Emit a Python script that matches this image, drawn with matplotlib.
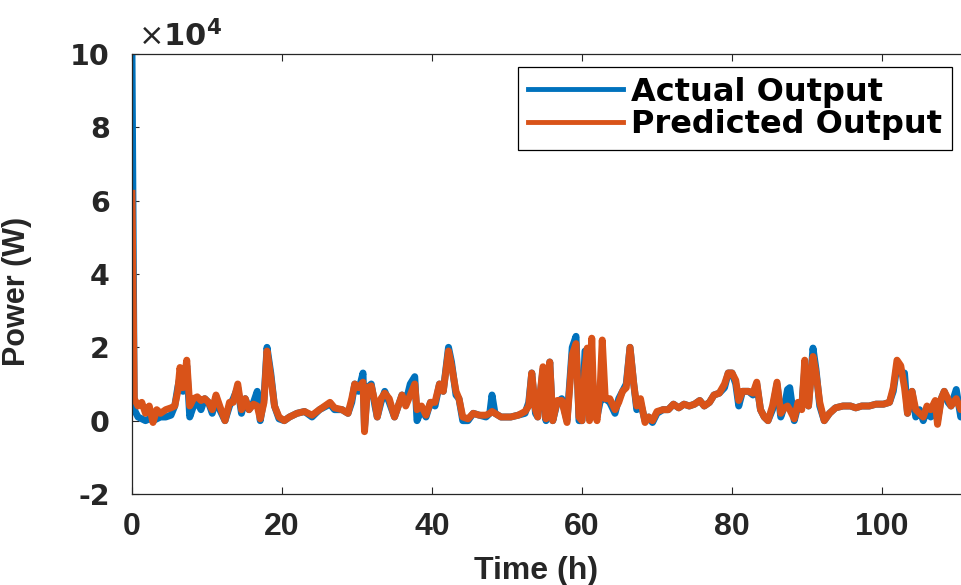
import numpy as np
import matplotlib
matplotlib.use("Agg")
import matplotlib.pyplot as plt
from matplotlib import font_manager
from matplotlib.ticker import FuncFormatter

# Dati (potenza in unità di 1e4 W)
hours = [0.0, 0.3, 0.8, 1.3, 1.8, 2.3, 2.8, 3.3, 3.8, 4.5, 5.2, 5.7, 6.1, 6.4, 6.8, 7.3, 7.7,
         8.2, 8.7, 9.2, 9.7, 10.2, 10.7, 11.2, 11.7, 12.4, 13.0, 13.5, 14.1, 14.6, 15.1, 15.6,
         16.2, 16.7, 17.1, 17.6, 18.0, 18.5, 19.0, 19.6, 20.3, 21.0, 22.0, 23.0, 24.0, 25.0,
         26.4, 27.0, 28.0, 28.8, 29.3, 29.7, 30.2, 30.8, 31.0, 31.4, 31.9, 32.4, 32.7, 33.2,
         33.7, 34.3, 35.0, 35.5, 36.0, 36.5, 37.1, 37.7, 38.0, 38.6, 39.2, 39.8, 40.4, 41.0,
         41.5, 42.2, 42.6, 43.2, 43.6, 44.1, 44.8, 45.5, 46.3, 47.2, 47.7, 48.0, 48.4, 49.2,
         50.5, 51.5, 52.4, 52.9, 53.3, 53.8, 54.1, 54.8, 55.2, 55.7, 56.1, 56.7, 57.3, 58.0,
         58.7, 59.2, 59.6, 60.0, 60.4, 60.7, 61.0, 61.3, 61.6, 62.0, 62.4, 62.7, 63.1, 63.7,
         64.4, 64.9, 65.4, 65.9, 66.4, 66.9, 67.3, 67.8, 68.4, 68.9, 69.4, 70.0, 70.8, 71.5,
         72.2, 72.9, 73.6, 74.3, 75.0, 75.7, 76.3, 77.0, 77.6, 78.3, 79.0, 79.5, 80.0, 80.5,
         80.9, 81.4, 82.2, 82.8, 83.3, 83.8, 84.3, 84.8, 85.4, 86.0, 86.5, 87.0, 87.4, 87.7,
         88.3, 88.8, 89.3, 89.7, 90.2, 90.8, 91.2, 91.7, 92.3, 93.0, 93.8, 94.8, 95.8, 96.5,
         97.3, 98.3, 99.2, 100.2, 101.0, 101.5, 102.0, 102.5, 103.0, 103.4, 104.0, 104.5,
         105.0, 105.5, 106.0, 106.5, 107.1, 107.4, 107.9, 108.3, 108.8, 109.2, 109.9, 110.5,
         111.2]

actual = [10.0, 0.3, 0.1, 0.05, 0.0, 0.05, 0.0, 0.05, 0.1, 0.1, 0.15, 0.4, 0.9, 1.2, 0.8, 1.5, 0.1,
          0.4, 0.5, 0.3, 0.6, 0.5, 0.2, 0.6, 0.3, 0.0, 0.4, 0.6, 0.9, 0.2, 0.6, 0.3,
          0.5, 0.8, 0.0, 0.6, 2.0, 1.3, 0.4, 0.05, 0.0, 0.1, 0.2, 0.25, 0.1, 0.3,
          0.45, 0.3, 0.3, 0.2, 0.5, 1.0, 0.8, 1.3, -0.2, 0.9, 1.0, 0.4, 0.1, 0.5,
          0.8, 0.5, 0.1, 0.4, 0.7, 0.5, 1.0, 1.2, 0.0, 0.3, 0.1, 0.5, 0.4, 1.0,
          0.8, 2.0, 1.6, 0.7, 0.6, 0.0, 0.0, 0.2, 0.15, 0.1, 0.2, 0.7, 0.2, 0.1,
          0.1, 0.15, 0.2, 0.5, 1.3, 0.2, 0.1, 1.4, 0.0, 1.6, 0.0, 0.5, 0.6, 0.0,
          2.0, 2.3, 0.0, 0.0, 1.9, 1.9, 0.1, 1.5, 0.4, 0.1, 0.5, 0.6, 0.6, 0.5,
          0.2, 0.6, 0.8, 1.0, 2.0, 1.0, 0.3, 0.5, 0.0, 0.1, -0.05, 0.2, 0.3, 0.3,
          0.45, 0.35, 0.45, 0.4, 0.45, 0.55, 0.4, 0.5, 0.7, 0.75, 0.9, 1.3, 1.3, 1.0,
          0.4, 0.8, 0.8, 0.7, 1.0, 0.3, 0.1, 0.0, 0.3, 1.0, 0.1, 0.4, 0.85, 0.9,
          0.0, 0.4, 0.4, 1.4, 0.4, 1.98, 1.4, 0.4, 0.0, 0.2, 0.35, 0.4, 0.4, 0.35,
          0.4, 0.4, 0.45, 0.45, 0.5, 0.8, 1.5, 1.3, 1.3, 0.2, 0.8, 0.1,
          0.3, 0.0, 0.3, 0.1, 0.5, 0.0, 0.6, 0.8, 0.5, 0.4, 0.85, 0.1,
          0.6]

predicted = [6.2, 0.6, 0.4, 0.5, 0.2, 0.4, -0.05, 0.3, 0.2, 0.3, 0.35, 0.4, 0.8, 1.45, 0.9, 1.65, 0.4,
             0.6, 0.65, 0.55, 0.6, 0.5, 0.3, 0.7, 0.4, 0.0, 0.5, 0.5, 1.0, 0.3, 0.6, 0.3,
             0.45, 0.4, 0.05, 0.5, 1.9, 1.2, 0.4, 0.1, 0.0, 0.1, 0.2, 0.25, 0.15, 0.3,
             0.5, 0.35, 0.3, 0.2, 0.6, 1.0, 0.9, 1.05, -0.3, 0.9, 0.95, 0.5, 0.1, 0.6,
             0.75, 0.6, 0.1, 0.4, 0.7, 0.4, 0.7, 1.0, 0.3, 0.4, 0.15, 0.5, 0.5, 1.0,
             0.8, 1.9, 1.5, 0.8, 0.6, 0.1, 0.05, 0.2, 0.15, 0.15, 0.2, 0.25, 0.2, 0.1,
             0.1, 0.15, 0.25, 0.4, 1.3, 0.3, 0.1, 1.47, 0.05, 1.6, 0.0, 0.55, 0.55, -0.05,
             1.8, 2.1, 0.1, 0.0, 1.4, 1.98, 0.0, 2.25, 0.3, 0.0, 0.8, 2.2, 0.6, 0.6,
             0.3, 0.5, 0.8, 0.9, 2.0, 1.0, 0.4, 0.6, -0.05, 0.1, 0.0, 0.25, 0.3, 0.3,
             0.45, 0.35, 0.45, 0.4, 0.45, 0.55, 0.4, 0.5, 0.7, 0.75, 1.0, 1.3, 1.3, 1.1,
             0.55, 0.8, 0.8, 0.75, 1.05, 0.3, 0.1, 0.0, 0.4, 1.05, 0.2, 0.35, 0.4, 0.3,
             0.05, 0.5, 0.3, 1.65, 0.4, 1.75, 1.3, 0.5, 0.0, 0.2, 0.35, 0.4, 0.4, 0.35,
             0.4, 0.4, 0.45, 0.45, 0.5, 0.9, 1.65, 1.5, 0.9, 0.2, 0.8, 0.3,
             0.2, 0.1, 0.4, 0.3, 0.55, -0.1, 0.6, 0.8, 0.6, 0.4, 0.6, 0.3,
             0.6]

x_ticks = [0, 20, 40, 60, 80, 100]
y_ticks = [-2, 0, 2, 4, 6, 8, 10]

# Font: narrow per assi se disponibile
nomi = {f.name for f in font_manager.fontManager.ttflist}
narrow = "Liberation Sans Narrow" if "Liberation Sans Narrow" in nomi else "Liberation Sans"

blu = "#0072BD"
arancio = "#D95319"

fig = plt.figure(figsize=(9.62, 5.85), dpi=100)
# l'asse esce a destra dalla figura, come nel riferimento
ax = fig.add_axes([132 / 962, 1 - 494 / 585, 900 / 962, 440 / 585])

t = np.array(hours)
ax.plot(t, np.array(actual) * 1e4, color=blu, lw=5, label="Actual Output", solid_joinstyle="round")
ax.plot(t, np.array(predicted) * 1e4, color=arancio, lw=5, label="Predicted Output", solid_joinstyle="round")

ax.set_xlim(0, 120)
ax.set_ylim(-2e4, 10e4)
ax.set_xticks(x_ticks)
ax.set_yticks([v * 1e4 for v in y_ticks])
ax.yaxis.set_major_formatter(FuncFormatter(lambda v, p: "%d" % round(v / 1e4)))

ax.tick_params(direction="in", length=5, width=0.8, top=True, right=True, colors="#262626")
for lab in ax.get_xticklabels():
    lab.set_fontfamily(narrow)
    lab.set_fontweight("bold")
    lab.set_fontsize(23)
    lab.set_color("#262626")
for lab in ax.get_yticklabels():
    lab.set_fontfamily("DejaVu Sans")
    lab.set_fontweight("bold")
    lab.set_fontsize(20.5)
    lab.set_color("#262626")
ax.tick_params(axis="x", pad=13)
ax.tick_params(axis="y", pad=16)

for s in ax.spines.values():
    s.set_color("#262626")
    s.set_linewidth(0.9)

ax.set_xlabel("Time (h)", fontfamily=narrow, fontweight="bold", fontsize=23, color="#262626")
ax.xaxis.set_label_coords((536 - 132) / 900, -0.14)
ax.set_ylabel("Power (W)", fontfamily=narrow, fontweight="bold", fontsize=22, color="#262626")
ax.yaxis.set_label_coords((32 - 132) / 900, 0.46)

plt.rcParams["mathtext.fontset"] = "dejavusans"
fig.text(138 / 962, 1 - 36 / 585, r"$\times\mathbf{10^4}$", fontsize=22, color="#262626",
         va="center", ha="left")

leg = ax.legend(loc="upper right", bbox_to_anchor=(952 / 962, 1 - 67 / 585),
                bbox_transform=fig.transFigure, borderaxespad=0, fancybox=False, framealpha=1,
                edgecolor="black", handlelength=3.0, handletextpad=0.25,
                borderpad=0.3, labelspacing=0.05,
                prop={"family": "DejaVu Sans", "weight": "bold", "size": 23})
leg.get_frame().set_linewidth(0.9)
for h in leg.get_lines():
    h.set_linewidth(3.5)

fig.savefig("out.png", dpi=100)
